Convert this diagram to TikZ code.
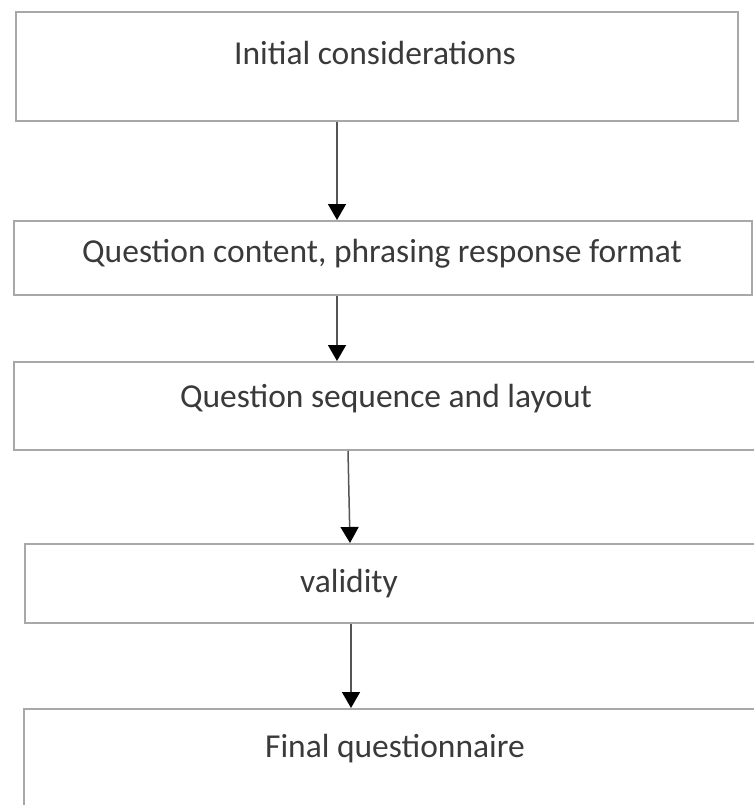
\documentclass[tikz,border=0pt]{standalone}
\usepackage{fontspec}
\setmainfont{Carlito}
\usetikzlibrary{positioning,arrows.meta}
\definecolor{boxgray}{HTML}{A8A8A8}
\definecolor{txtgray}{HTML}{3A3A3A}
\definecolor{linegray}{HTML}{555555}

\begin{document}
\begin{tikzpicture}
[x=1pt,y=-1pt,
box/.style={rectangle,draw=boxgray,line width=2pt,anchor=north west,inner sep=0pt},
txt/.style={anchor=base,inner sep=0pt,text=txtgray,font=\fontsize{33.5}{40}\selectfont},
flow/.style={draw=linegray,line width=1.5pt,-{Triangle[width=18pt,length=16pt,color=black]}}]
\useasboundingbox[fill=white] (0,0) rectangle (753,805);
\node[box,minimum width=722pt,minimum height=109pt] (b1) at (15,11) {};
\node[box,minimum width=738pt,minimum height=74pt] (b2) at (13,220) {};
\node[box,minimum width=741pt,minimum height=88pt] (b3) at (13,361) {};
\node[box,minimum width=731pt,minimum height=79pt] (b4) at (24,543) {};
\node[box,minimum width=732pt,minimum height=110pt] (b5) at (23,708) {};
\node[txt] (t1) at (375,65) {Initial considerations};
\node[txt] (t2) at (382,262) {Question content, phrasing response format};
\node[txt] (t3) at (386,407) {Question sequence and layout};
\node[txt] (t4) at (349,592) {validity};
\node[txt] (t5) at (395,757) {Final questionnaire};
\draw[flow] (337,0 |- b1.south) -- (337,0 |- b2.north);
\draw[flow] (337,0 |- b2.south) -- (337,0 |- b3.north);
\draw[flow] (348,0 |- b3.south) -- (350,0 |- b4.north);
\draw[flow] (351,0 |- b4.south) -- (351,0 |- b5.north);
\end{tikzpicture}
\end{document}
